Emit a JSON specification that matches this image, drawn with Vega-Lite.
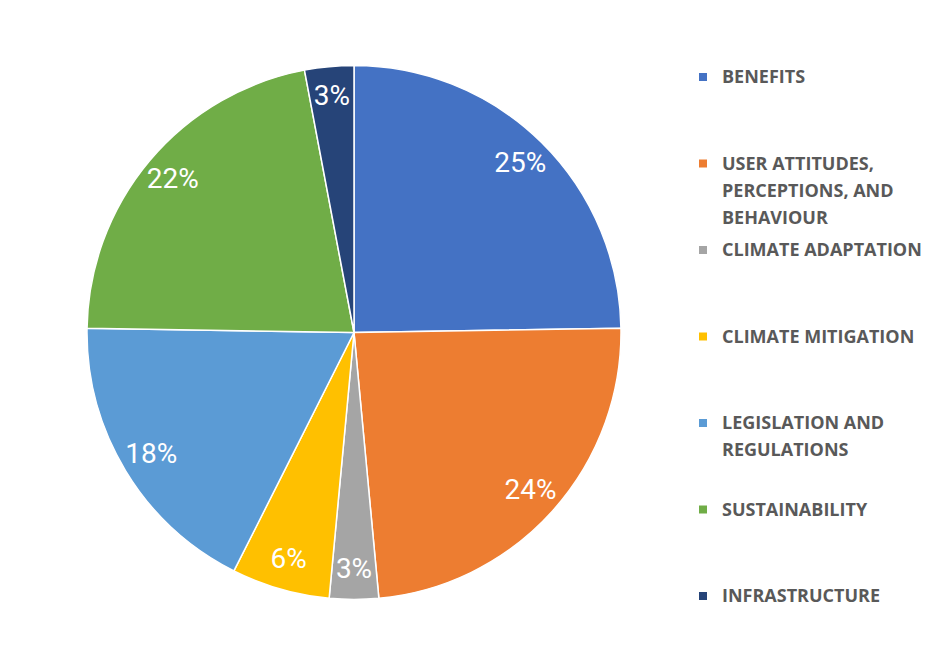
{
  "$schema": "https://vega.github.io/schema/vega-lite/v6.json",
  "autosize": {"type": "fit", "contains": "padding"},
  "width": 929,
  "height": 655,
  "padding": {"left": 14, "top": 10, "right": 7, "bottom": 0},
  "background": "white",
  "config": {"view": {"stroke": null}},
  "data": {
    "values": [
      {"category": "BENEFITS", "value": 25, "order": 1},
      {"category": "USER ATTITUDES, PERCEPTIONS, AND BEHAVIOUR", "value": 24, "order": 2},
      {"category": "CLIMATE ADAPTATION", "value": 3, "order": 3},
      {"category": "CLIMATE MITIGATION", "value": 6, "order": 4},
      {"category": "LEGISLATION AND REGULATIONS", "value": 18, "order": 5},
      {"category": "SUSTAINABILITY", "value": 22, "order": 6},
      {"category": "INFRASTRUCTURE", "value": 3, "order": 7}
    ]
  },
  "encoding": {
    "theta": {"field": "value", "type": "quantitative", "stack": true},
    "order": {"field": "order", "type": "quantitative"},
    "color": {
      "field": "category",
      "type": "nominal",
      "sort": ["BENEFITS", "USER ATTITUDES, PERCEPTIONS, AND BEHAVIOUR", "CLIMATE ADAPTATION", "CLIMATE MITIGATION", "LEGISLATION AND REGULATIONS", "SUSTAINABILITY", "INFRASTRUCTURE"],
      "scale": {
        "domain": ["BENEFITS", "USER ATTITUDES, PERCEPTIONS, AND BEHAVIOUR", "CLIMATE ADAPTATION", "CLIMATE MITIGATION", "LEGISLATION AND REGULATIONS", "SUSTAINABILITY", "INFRASTRUCTURE"],
        "range": ["#4472C4", "#ED7D31", "#A5A5A5", "#FFC000", "#5B9BD5", "#70AD47", "#264478"]
      },
      "legend": {
        "title": " ",
        "titleFontSize": 17,
        "titlePadding": 41,
        "orient": "right",
        "symbolType": "square",
        "symbolSize": 64,
        "symbolStrokeWidth": 0,
        "labelFont": "Open Sans",
        "labelFontWeight": "bold",
        "labelFontSize": 18,
        "labelColor": "#595959",
        "labelBaseline": "top",
        "labelLimit": 300,
        "labelOffset": 10,
        "rowPadding": 13.5,
        "offset": 0,
        "labelExpr": "datum.label == 'USER ATTITUDES, PERCEPTIONS, AND BEHAVIOUR' ? ['USER ATTITUDES,', 'PERCEPTIONS, AND', 'BEHAVIOUR'] : datum.label == 'LEGISLATION AND REGULATIONS' ? ['LEGISLATION AND', 'REGULATIONS', ' '] : [datum.label, ' ', ' ']",
        "encode": {"labels": {"update": {"dy": {"value": -8}, "lineHeight": {"value": 27}}}}
      }
    }
  },
  "layer": [
    {
      "mark": {"type": "arc", "outerRadius": 267, "stroke": "white", "strokeWidth": 1.5}
    },
    {
      "mark": {"type": "text", "radius": 237, "font": "Roboto", "fontSize": 28, "fill": "white"},
      "encoding": {
        "text": {"field": "label", "type": "nominal"}
      },
      "transform": [{"calculate": "datum.value + '%'", "as": "label"}]
    }
  ]
}
